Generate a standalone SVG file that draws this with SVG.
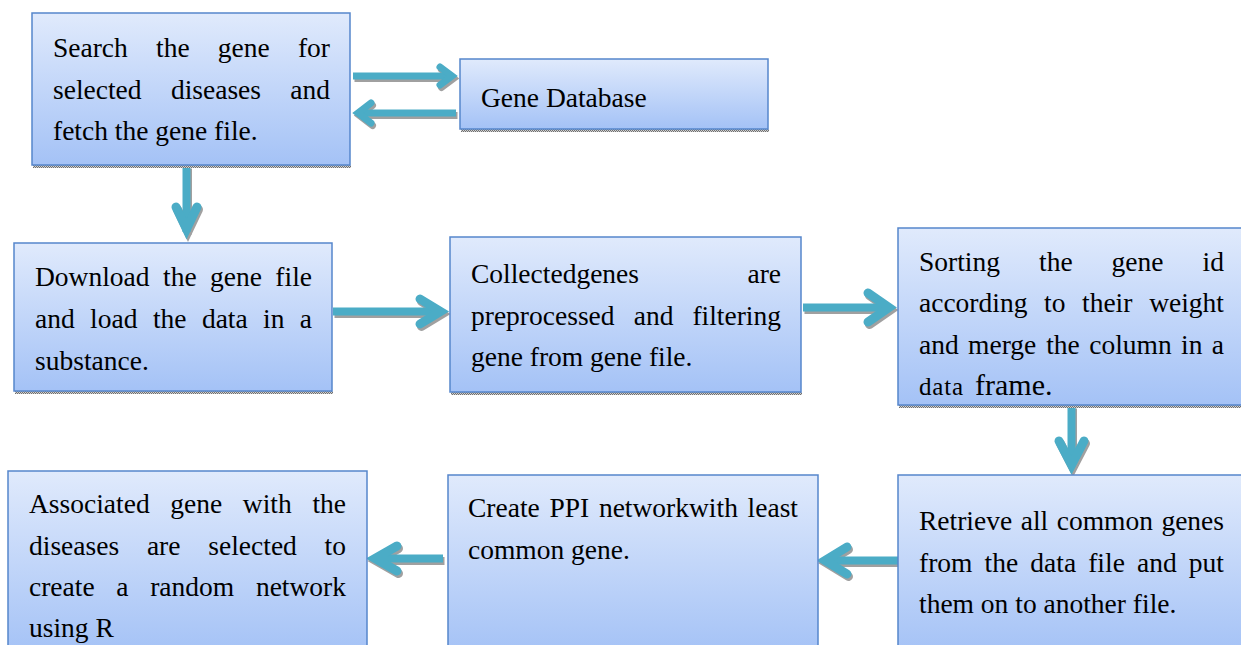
<svg xmlns="http://www.w3.org/2000/svg" width="1241" height="645" viewBox="0 0 1241 645">
<defs>
<linearGradient id="bg" x1="0" y1="0" x2="0" y2="1">
<stop offset="0" stop-color="#e0eafc"/>
<stop offset="1" stop-color="#a4c2f6"/>
</linearGradient>
<pattern id="chk" patternUnits="userSpaceOnUse" width="2" height="2">
<rect width="2" height="2" fill="#d0d0d0"/>
<rect width="1" height="1" fill="#707070"/>
<rect x="1" y="1" width="1" height="1" fill="#707070"/>
</pattern>
<style>
.box{fill:url(#bg);stroke:#5686cc;stroke-width:1.5}
.sh{fill:url(#chk)}
.t{font-family:"Liberation Serif","Times New Roman",serif;font-size:27.5px;fill:#000}
.e{text-anchor:end}
.ar{fill:none;stroke:#4bacc6;stroke-linejoin:miter;stroke-linecap:round}
.ars{fill:none;stroke:url(#chk);stroke-linejoin:miter;stroke-linecap:round}
.sw{stroke-width:8;stroke-linecap:butt}
.sws{stroke-width:7;stroke-linecap:butt}
.hw{stroke-width:9}
.hws{stroke-width:7}
</style>
</defs>
<rect width="1241" height="645" fill="#ffffff"/>

<g id="connectors">
<g transform="translate(1.5,2.5)">
<path class="ars sws" d="M353,76 H450"/>
<path class="ars hws" d="M440,67 L452,76 L440,85"/>
<path class="ars sws" d="M456,113 H360"/>
<path class="ars hws" d="M371,103 L358,113 L371,123"/>
<path class="ars sw" d="M186.5,166 V232"/>
<path class="ars hw" d="M176,207 L186.5,229 L197,207"/>
<path class="ars sw" d="M333,311.5 H440"/>
<path class="ars hw" d="M420,299 L440.5,311.5 L420,324"/>
<path class="ars sw" d="M803,307.5 H888"/>
<path class="ars hw" d="M868,293 L889,307.5 L868,322"/>
<path class="ars sw" d="M1071.5,406 V462"/>
<path class="ars hw" d="M1059,441 L1071.5,465 L1084,441"/>
<path class="ars sw" d="M898,560.5 H827"/>
<path class="ars hw" d="M847,547 L825,560.5 L847,574"/>
<path class="ars sw" d="M443,558.5 H377"/>
<path class="ars hw" d="M397,546 L375,558.5 L397,571"/>
</g>
<path class="ar sws" d="M353,76 H450"/>
<path class="ar hws" d="M440,67 L452,76 L440,85"/>
<path class="ar sws" d="M456,113 H360"/>
<path class="ar hws" d="M371,103 L358,113 L371,123"/>
<path class="ar sw" d="M186.5,166 V232"/>
<path class="ar hw" d="M176,207 L186.5,229 L197,207"/>
<path class="ar sw" d="M333,311.5 H440"/>
<path class="ar hw" d="M420,299 L440.5,311.5 L420,324"/>
<path class="ar sw" d="M803,307.5 H888"/>
<path class="ar hw" d="M868,293 L889,307.5 L868,322"/>
<path class="ar sw" d="M1071.5,406 V462"/>
<path class="ar hw" d="M1059,441 L1071.5,465 L1084,441"/>
<path class="ar sw" d="M898,560.5 H827"/>
<path class="ar hw" d="M847,547 L825,560.5 L847,574"/>
<path class="ar sw" d="M443,558.5 H377"/>
<path class="ar hw" d="M397,546 L375,558.5 L397,571"/>
</g>

<g id="search">
<rect class="sh" x="33" y="165" width="318" height="3"/>
<rect class="box" x="32" y="13" width="318" height="152"/>
<text class="t" y="57"><tspan x="53">Search</tspan><tspan x="156">the</tspan><tspan x="217.8">gene</tspan><tspan class="e" x="330">for</tspan></text>
<text class="t" y="99"><tspan x="53">selected</tspan><tspan x="170.9">diseases</tspan><tspan class="e" x="330">and</tspan></text>
<text class="t" x="53" y="140">fetch the gene file.</text>
</g>

<g id="genedb">
<rect class="sh" x="461" y="129" width="308" height="3"/>
<rect class="box" x="460" y="59" width="308" height="70"/>
<text class="t" x="481" y="107">Gene Database</text>
</g>

<g id="download">
<rect class="sh" x="15" y="391" width="318" height="3"/>
<rect class="box" x="14" y="243" width="318" height="148"/>
<text class="t" y="286"><tspan x="35">Download</tspan><tspan x="163">the</tspan><tspan x="210">gene</tspan><tspan class="e" x="312">file</tspan></text>
<text class="t" y="328"><tspan x="35">and</tspan><tspan x="90.1">load</tspan><tspan x="152.9">the</tspan><tspan x="201.9">data</tspan><tspan x="263.1">in</tspan><tspan class="e" x="312">a</tspan></text>
<text class="t" x="35" y="370">substance.</text>
</g>

<g id="collected">
<rect class="sh" x="451" y="392" width="351" height="3"/>
<rect class="box" x="450" y="237" width="351" height="155"/>
<text class="t" y="283"><tspan x="471">Collectedgenes</tspan><tspan class="e" x="781">are</tspan></text>
<text class="t" y="325"><tspan x="471">preprocessed</tspan><tspan x="633.7">and</tspan><tspan class="e" x="781">filtering</tspan></text>
<text class="t" x="471" y="366">gene from gene file.</text>
</g>

<g id="sorting">
<rect class="sh" x="899" y="405" width="350" height="3"/>
<rect class="box" x="898" y="228" width="350" height="177"/>
<text class="t" y="271"><tspan x="919">Sorting</tspan><tspan x="1039">the</tspan><tspan x="1111.6">gene</tspan><tspan class="e" x="1224">id</tspan></text>
<text class="t" y="312"><tspan x="919">according</tspan><tspan x="1044">to</tspan><tspan x="1082">their</tspan><tspan class="e" x="1224">weight</tspan></text>
<text class="t" y="354"><tspan x="919">and</tspan><tspan x="968.1">merge</tspan><tspan x="1046.2">the</tspan><tspan x="1089.2">column</tspan><tspan x="1181.1">in</tspan><tspan class="e" x="1224">a</tspan></text>
<text class="t" y="395"><tspan x="919" style="font-size:25px;letter-spacing:0.8px">data</tspan><tspan x="975" style="font-size:30px">frame.</tspan></text>
</g>

<g id="retrieve">
<rect class="box" x="898" y="475" width="350" height="180"/>
<text class="t" y="530"><tspan x="919">Retrieve</tspan><tspan x="1020.7">all</tspan><tspan x="1056.7">common</tspan><tspan class="e" x="1224">genes</tspan></text>
<text class="t" y="572"><tspan x="919">from</tspan><tspan x="984.6">the</tspan><tspan x="1030.3">data</tspan><tspan x="1088.2">file</tspan><tspan x="1137">and</tspan><tspan class="e" x="1224">put</tspan></text>
<text class="t" x="919" y="613">them on to another file.</text>
</g>

<g id="ppi">
<rect class="box" x="448" y="475" width="370" height="180"/>
<text class="t" y="517"><tspan x="468">Create</tspan><tspan x="549.5">PPI</tspan><tspan x="598.9">networkwith</tspan><tspan class="e" x="798">least</tspan></text>
<text class="t" x="468" y="559">common gene.</text>
</g>

<g id="associated">
<rect class="box" x="8" y="471" width="359" height="184"/>
<text class="t" y="513"><tspan x="29">Associated</tspan><tspan x="170.3">gene</tspan><tspan x="242.8">with</tspan><tspan class="e" x="346">the</tspan></text>
<text class="t" y="555"><tspan x="29">diseases</tspan><tspan x="146.9">are</tspan><tspan x="208.3">selected</tspan><tspan class="e" x="346">to</tspan></text>
<text class="t" y="596"><tspan x="29">create</tspan><tspan x="116.3">a</tspan><tspan x="150.2">random</tspan><tspan class="e" x="346">network</tspan></text>
<text class="t" x="29" y="637">using R</text>
</g>
</svg>
